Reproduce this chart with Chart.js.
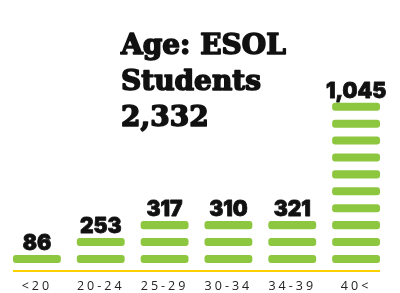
<!DOCTYPE html>
<html>
<head>
<meta charset="utf-8">
<script src="https://cdn.jsdelivr.net/npm/chart.js@4"></script>
<style>
  html, body { margin: 0; padding: 0; background: #fff; }
  #wrap { width: 400px; height: 293px; position: relative; }
</style>
</head>
<body>
<div id="wrap"><canvas id="ageChart"></canvas></div>
<script>
// data
const ageLabels = ['<20', '20-24', '25-29', '30-34', '34-39', '40<'];
const ageCounts = [86, 253, 317, 310, 321, 1045];
const segmentCounts = [1, 2, 3, 3, 3, 10]; // stripes per column
const titleLines = ['Age: ESOL', 'Students', '2,332'];

const GREEN = '#8dc63f';
const YELLOW = '#fdd100';

// each stripe is a floating bar [k + lo, k + hi] on a hidden y scale
const SEG_LO = 0.476, SEG_HI = 0.952;
const maxSegs = Math.max(...segmentCounts);
const datasets = [];
for (let k = 0; k < maxSegs; k++) {
    datasets.push({
        data: segmentCounts.map(n => (k < n ? [k + SEG_LO, k + SEG_HI] : null)),
        backgroundColor: GREEN,
        borderRadius: 3,
        borderSkipped: false,
        grouped: false,
        barPercentage: 0.75,
        categoryPercentage: 1
    });
}

const stripePlugin = {
    id: 'stripeDeco',
    beforeDraw(chart) {
        chart.ctx.letterSpacing = '3px'; // wide tracking on the axis labels
    },
    afterDatasetsDraw(chart) {
        const { ctx, chartArea, scales } = chart;
        ctx.save();
        ctx.letterSpacing = '0px';

        // yellow baseline from first bar edge to last bar edge
        const meta = chart.getDatasetMeta(0);
        const first = meta.data[0], last = meta.data[meta.data.length - 1];
        ctx.strokeStyle = YELLOW;
        ctx.lineWidth = 2;
        ctx.beginPath();
        ctx.moveTo(first.x - first.width / 2, chartArea.bottom);
        ctx.lineTo(last.x + last.width / 2, chartArea.bottom);
        ctx.stroke();

        // counts above each column
        ctx.fillStyle = '#111';
        ctx.strokeStyle = '#111';
        ctx.lineWidth = 0.8;
        ctx.lineJoin = 'round';
        ctx.font = '900 21px Inter';
        ctx.textAlign = 'center';
        ctx.textBaseline = 'alphabetic';
        ageCounts.forEach((v, i) => {
            const x = scales.x.getPixelForValue(i);
            const y = scales.y.getPixelForValue(segmentCounts[i] - 1 + SEG_HI) - 5;
            const s = v.toLocaleString('en-US');
            ctx.fillText(s, x, y);
            ctx.strokeText(s, x, y);
        });

        // title block, thickened to get closer to the heavy slab face
        ctx.textAlign = 'left';
        ctx.font = 'bold 28px "DejaVu Serif"';
        ctx.lineWidth = 1.6;
        const baselines = [54, 90, 126];
        titleLines.forEach((t, i) => {
            ctx.fillText(t, 121, baselines[i]);
            ctx.strokeText(t, 121, baselines[i]);
        });
        ctx.restore();
    },
    afterDraw(chart) {
        chart.ctx.letterSpacing = '0px';
    }
};

new Chart(document.getElementById('ageChart').getContext('2d'), {
    type: 'bar',
    data: { labels: ageLabels, datasets },
    options: {
        responsive: true,
        maintainAspectRatio: false,
        animation: false,
        layout: { padding: { left: 5, right: 12, top: 85, bottom: -9 } },
        plugins: {
            legend: { display: false },
            tooltip: { enabled: false }
        },
        scales: {
            y: { display: false, min: 0, max: 11 },
            x: {
                grid: { display: false, drawTicks: false },
                border: { display: false },
                ticks: {
                    color: '#222',
                    padding: 8,
                    font: { family: 'Open Sans', size: 12.5 }
                }
            }
        }
    },
    plugins: [stripePlugin]
});
</script>
</body>
</html>
